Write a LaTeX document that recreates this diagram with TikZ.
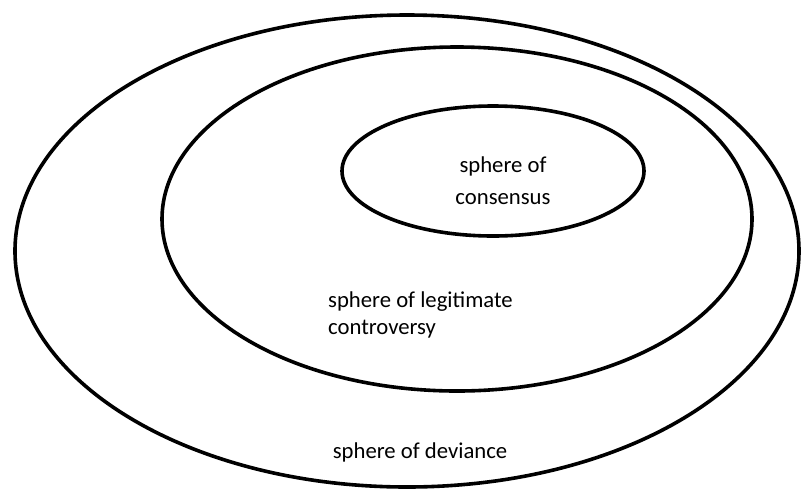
\documentclass[tikz,border=0pt]{standalone}
\usepackage{fontspec}
\setmainfont{Carlito}
\begin{document}
\begin{tikzpicture}[x=1pt,y=-1pt,
  ring/.style={draw=black,line width=3.6pt},
  lbl/.style={font=\fontsize{22.7}{27.7}\selectfont,inner sep=0pt}]
\useasboundingbox (0,0) rectangle (803,491);
\draw[ring] (407,251) ellipse [x radius=392, y radius=236];
\draw[ring] (457,219) ellipse [x radius=295, y radius=172];
\draw[ring] (493,171) ellipse [x radius=151, y radius=65];
\node[lbl,font=\fontsize{22.7}{32}\selectfont,align=center] (cons) at (503,181) {sphere of\\consensus};
\node[lbl,align=left,anchor=west] (legit) at (328,315) {sphere of legitimate\\controversy};
\node[lbl,anchor=base] (dev) at (420,458) {sphere of deviance};
\end{tikzpicture}
\end{document}
